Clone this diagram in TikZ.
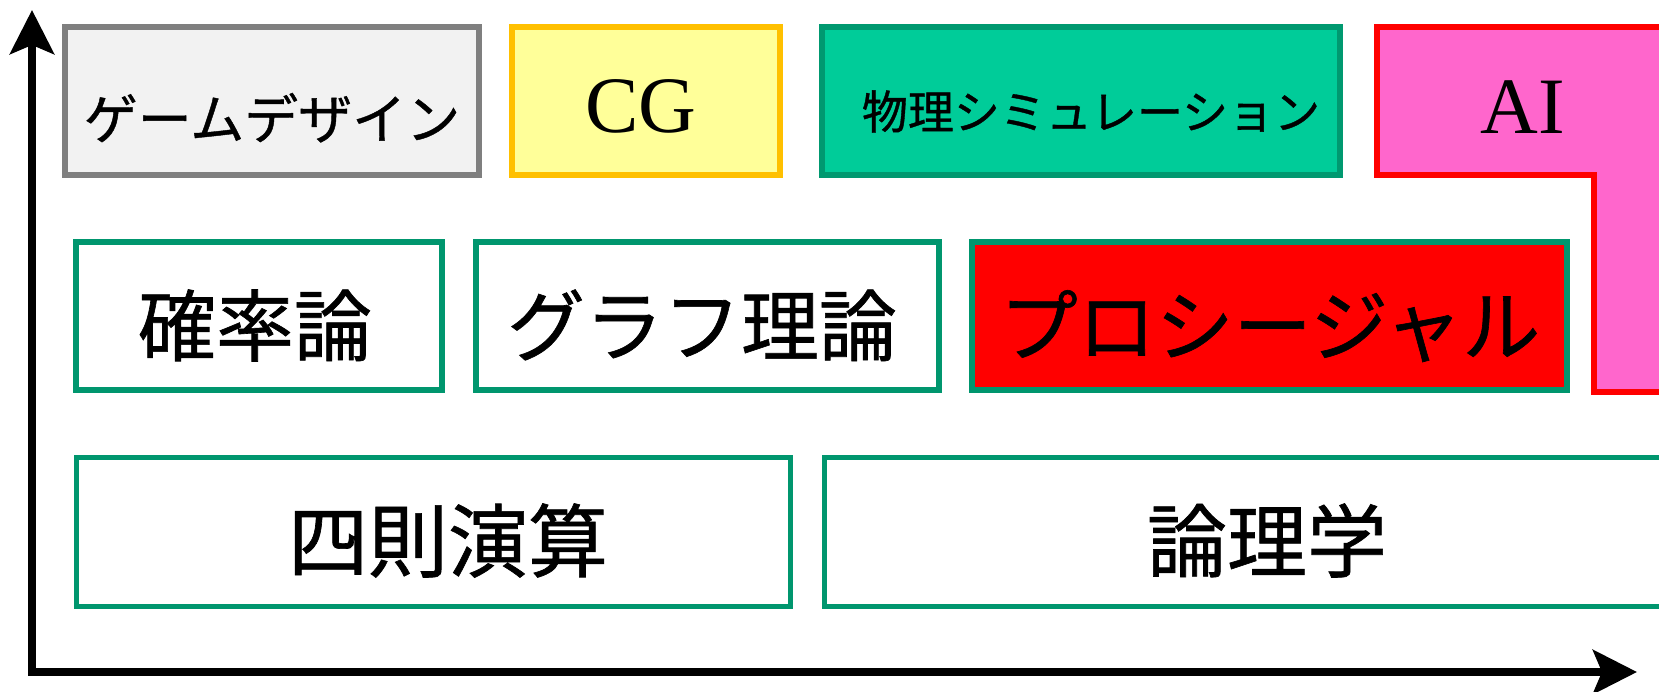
\documentclass[tikz,border=0pt]{standalone}
\usepackage{fontspec}
\newfontfamily\jp[FakeBold=0.8]{Noto Sans CJK JP}
\newfontfamily\tms{Liberation Serif}
\usetikzlibrary{arrows.meta}
\definecolor{gbord}{HTML}{7F7F7F}
\definecolor{gfill}{HTML}{F2F2F2}
\definecolor{ybord}{HTML}{FFC000}
\definecolor{yfill}{HTML}{FFFF99}
\definecolor{sfill}{HTML}{00CC99}
\definecolor{sbord}{HTML}{009970}
\definecolor{afill}{HTML}{FF66CC}
\definecolor{abord}{HTML}{FF0000}
\definecolor{grn}{HTML}{00966E}
\definecolor{pfill}{HTML}{FF0000}
\tikzset{
  boxline/.style={line width=5.5pt, line join=miter},
  jptext/.style={anchor=base, inner sep=0pt, font=\jp},
  serif/.style={anchor=base, inner sep=0pt, font=\tms\fontsize{80pt}{96pt}\selectfont},
  axis/.style={line width=8pt, line join=miter, {Stealth[length=44pt,width=44pt,inset=9pt]}-{Stealth[length=44pt,width=44pt,inset=9pt]}}
}
\begin{document}
\begin{tikzpicture}[x=1pt,y=-1pt]
\useasboundingbox (0,0) rectangle (1659,691);
\clip (0,0) rectangle (1659,691);
\fill[white] (0,0) rectangle (1659,691);
% row 1
\draw[boxline, draw=gbord, fill=gfill] (65,27) rectangle (479,175);
\node[jptext, font=\jp\fontsize{54pt}{60pt}\selectfont] (game) at (272,139) {ゲームデザイン};
\draw[boxline, draw=ybord, fill=yfill] (512,27) rectangle (780,175);
\node[serif] (cg) at (641,132) {CG};
\draw[boxline, draw=sbord, fill=sfill] (822,27) rectangle (1340,175);
\node[jptext, font=\jp\fontsize{46pt}{52pt}\selectfont] (sim) at (1091,129) {物理シミュレーション};
\draw[boxline, draw=abord, fill=afill] (1377,27) -- (1700,27) -- (1700,392) -- (1594,392) -- (1594,175) -- (1377,175) -- cycle;
\node[serif] (ai) at (1523,133) {AI};
% row 2
\draw[boxline, draw=grn, fill=white] (76,242) rectangle (442,390);
\node[jptext, font=\jp\fontsize{78pt}{90pt}\selectfont] (prob) at (255,355) {確率論};
\draw[boxline, draw=grn, fill=white] (476,242) rectangle (939,390);
\node[jptext, font=\jp\fontsize{78pt}{90pt}\selectfont] (graph) at (702,355) {グラフ理論};
\draw[boxline, draw=grn, fill=pfill] (972,242) rectangle (1567,390);
\node[jptext, font=\jp\fontsize{78pt}{90pt}\selectfont] (proc) at (1270,355) {プロシージャル};
% row 3
\draw[boxline, line width=5pt, draw=grn, fill=white] (76,457) rectangle (790,606);
\node[jptext, font=\jp\fontsize{80pt}{92pt}\selectfont] (arith) at (448,571) {四則演算};
\draw[boxline, line width=5pt, draw=grn, fill=white] (824,457) rectangle (1710,606);
\node[jptext, font=\jp\fontsize{80pt}{92pt}\selectfont] (logic) at (1267,571) {論理学};
% axes
\coordinate (ytip) at (32,10);
\coordinate (origin) at (32,672);
\coordinate (xtip) at (1637,672);
\draw[axis] (ytip) -- (origin) -- (xtip);
\end{tikzpicture}
\end{document}
